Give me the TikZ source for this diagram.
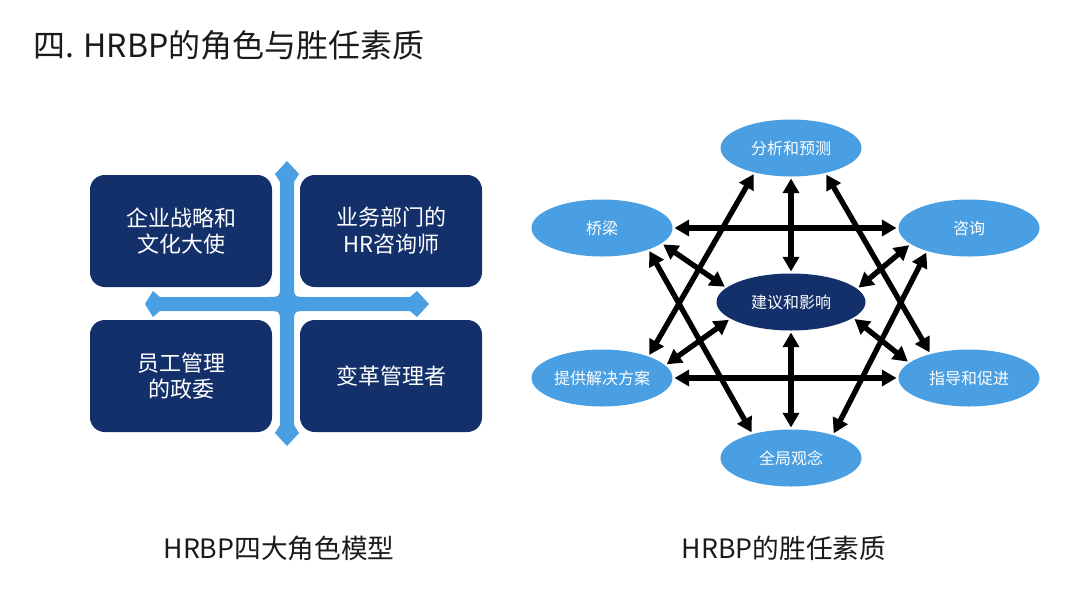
\documentclass[tikz,border=0pt]{standalone}
\usepackage{fontspec}
\setmainfont{Noto Sans CJK SC}
\usetikzlibrary{arrows.meta,shapes.geometric}
\definecolor{navy}{HTML}{13306A}
\definecolor{skyb}{HTML}{4A9FE2}
\definecolor{ink}{HTML}{1A1A1A}
\begin{document}
\begin{tikzpicture}[x=0.75pt,y=-0.75pt,
  quad/.style={fill=navy, rounded corners=11pt, minimum width=136.5pt, minimum height=84pt, text=white, align=center, font=\fontsize{16.5pt}{20pt}\selectfont, inner sep=0pt},
  oval/.style={ellipse, fill=skyb, minimum width=105.75pt, minimum height=42.75pt, inner sep=0pt, outer sep=1.5pt, text=white, font=\fontsize{12pt}{14pt}\selectfont},
  core/.style={oval, fill=navy, minimum width=111.75pt},
  biarrow/.style={line width=4pt, >={Triangle[length=11pt,width=12pt]}, <->},
  caption/.style={font=\fontsize{20pt}{24pt}\selectfont, inner sep=0pt, text=ink}
]
\useasboundingbox (0,0) rectangle (1080,607);
% title
\node[font=\fontsize{24pt}{28pt}\selectfont, inner sep=0pt, anchor=west, text=ink] (title) at (33,45) {四. HRBP的角色与胜任素质};
% left: cross
\fill[skyb] (287,161) -- (299,174) -- (294,182) -- (294,284) .. controls (294,297) .. (307,297) -- (410,297) -- (417,291) -- (429,304) -- (417,317) -- (410,311) -- (307,311) .. controls (294,311) .. (294,324) -- (294,425) -- (299,433) -- (287,446) -- (275,433) -- (280,425) -- (280,324) .. controls (280,311) .. (267,311) -- (160,311) -- (153,317) -- (145,304) -- (153,291) -- (160,297) -- (267,297) .. controls (280,297) .. (280,284) -- (280,182) -- (275,174) -- cycle;
% left: quadrants
\node[quad] (q1) at (181,231) {企业战略和\\文化大使};
\node[quad] (q2) at (391,231) {业务部门的\\HR咨询师};
\node[quad] (q3) at (181,376) {员工管理\\的政委};
\node[quad] (q4) at (391,376) {变革管理者};
% right: ovals
\node[oval] (A) at (791,148) {分析和预测};
\node[oval] (B) at (602,228) {桥梁};
\node[oval] (C) at (969,228) {咨询};
\node[core] (E) at (791,302) {建议和影响};
\node[oval] (D) at (602,378) {提供解决方案};
\node[oval] (F) at (969,378) {指导和促进};
\node[oval] (G) at (791,458) {全局观念};
% right: arrows
\draw[biarrow] (B.east) -- (C.west);
\draw[biarrow] (D.east) -- (F.west);
\draw[biarrow] (A.south) -- (E.north);
\draw[biarrow] (E.south) -- (G.north);
\draw[biarrow] (A.215) -- (D.26);
\draw[biarrow] (A.323) -- (F.147);
\draw[biarrow] (B.334) -- (G.147);
\draw[biarrow] (C.210) -- (G.30);
\draw[biarrow] (B.345) -- (E.167);
\draw[biarrow] (C.196) -- (E.12);
\draw[biarrow] (D.12) -- (E.196);
\draw[biarrow] (F.165) -- (E.345);
% captions
\node[caption] (cap1) at (279,548) {HRBP四大角色模型};
\node[caption] (cap2) at (784,548) {HRBP的胜任素质};
\end{tikzpicture}
\end{document}
